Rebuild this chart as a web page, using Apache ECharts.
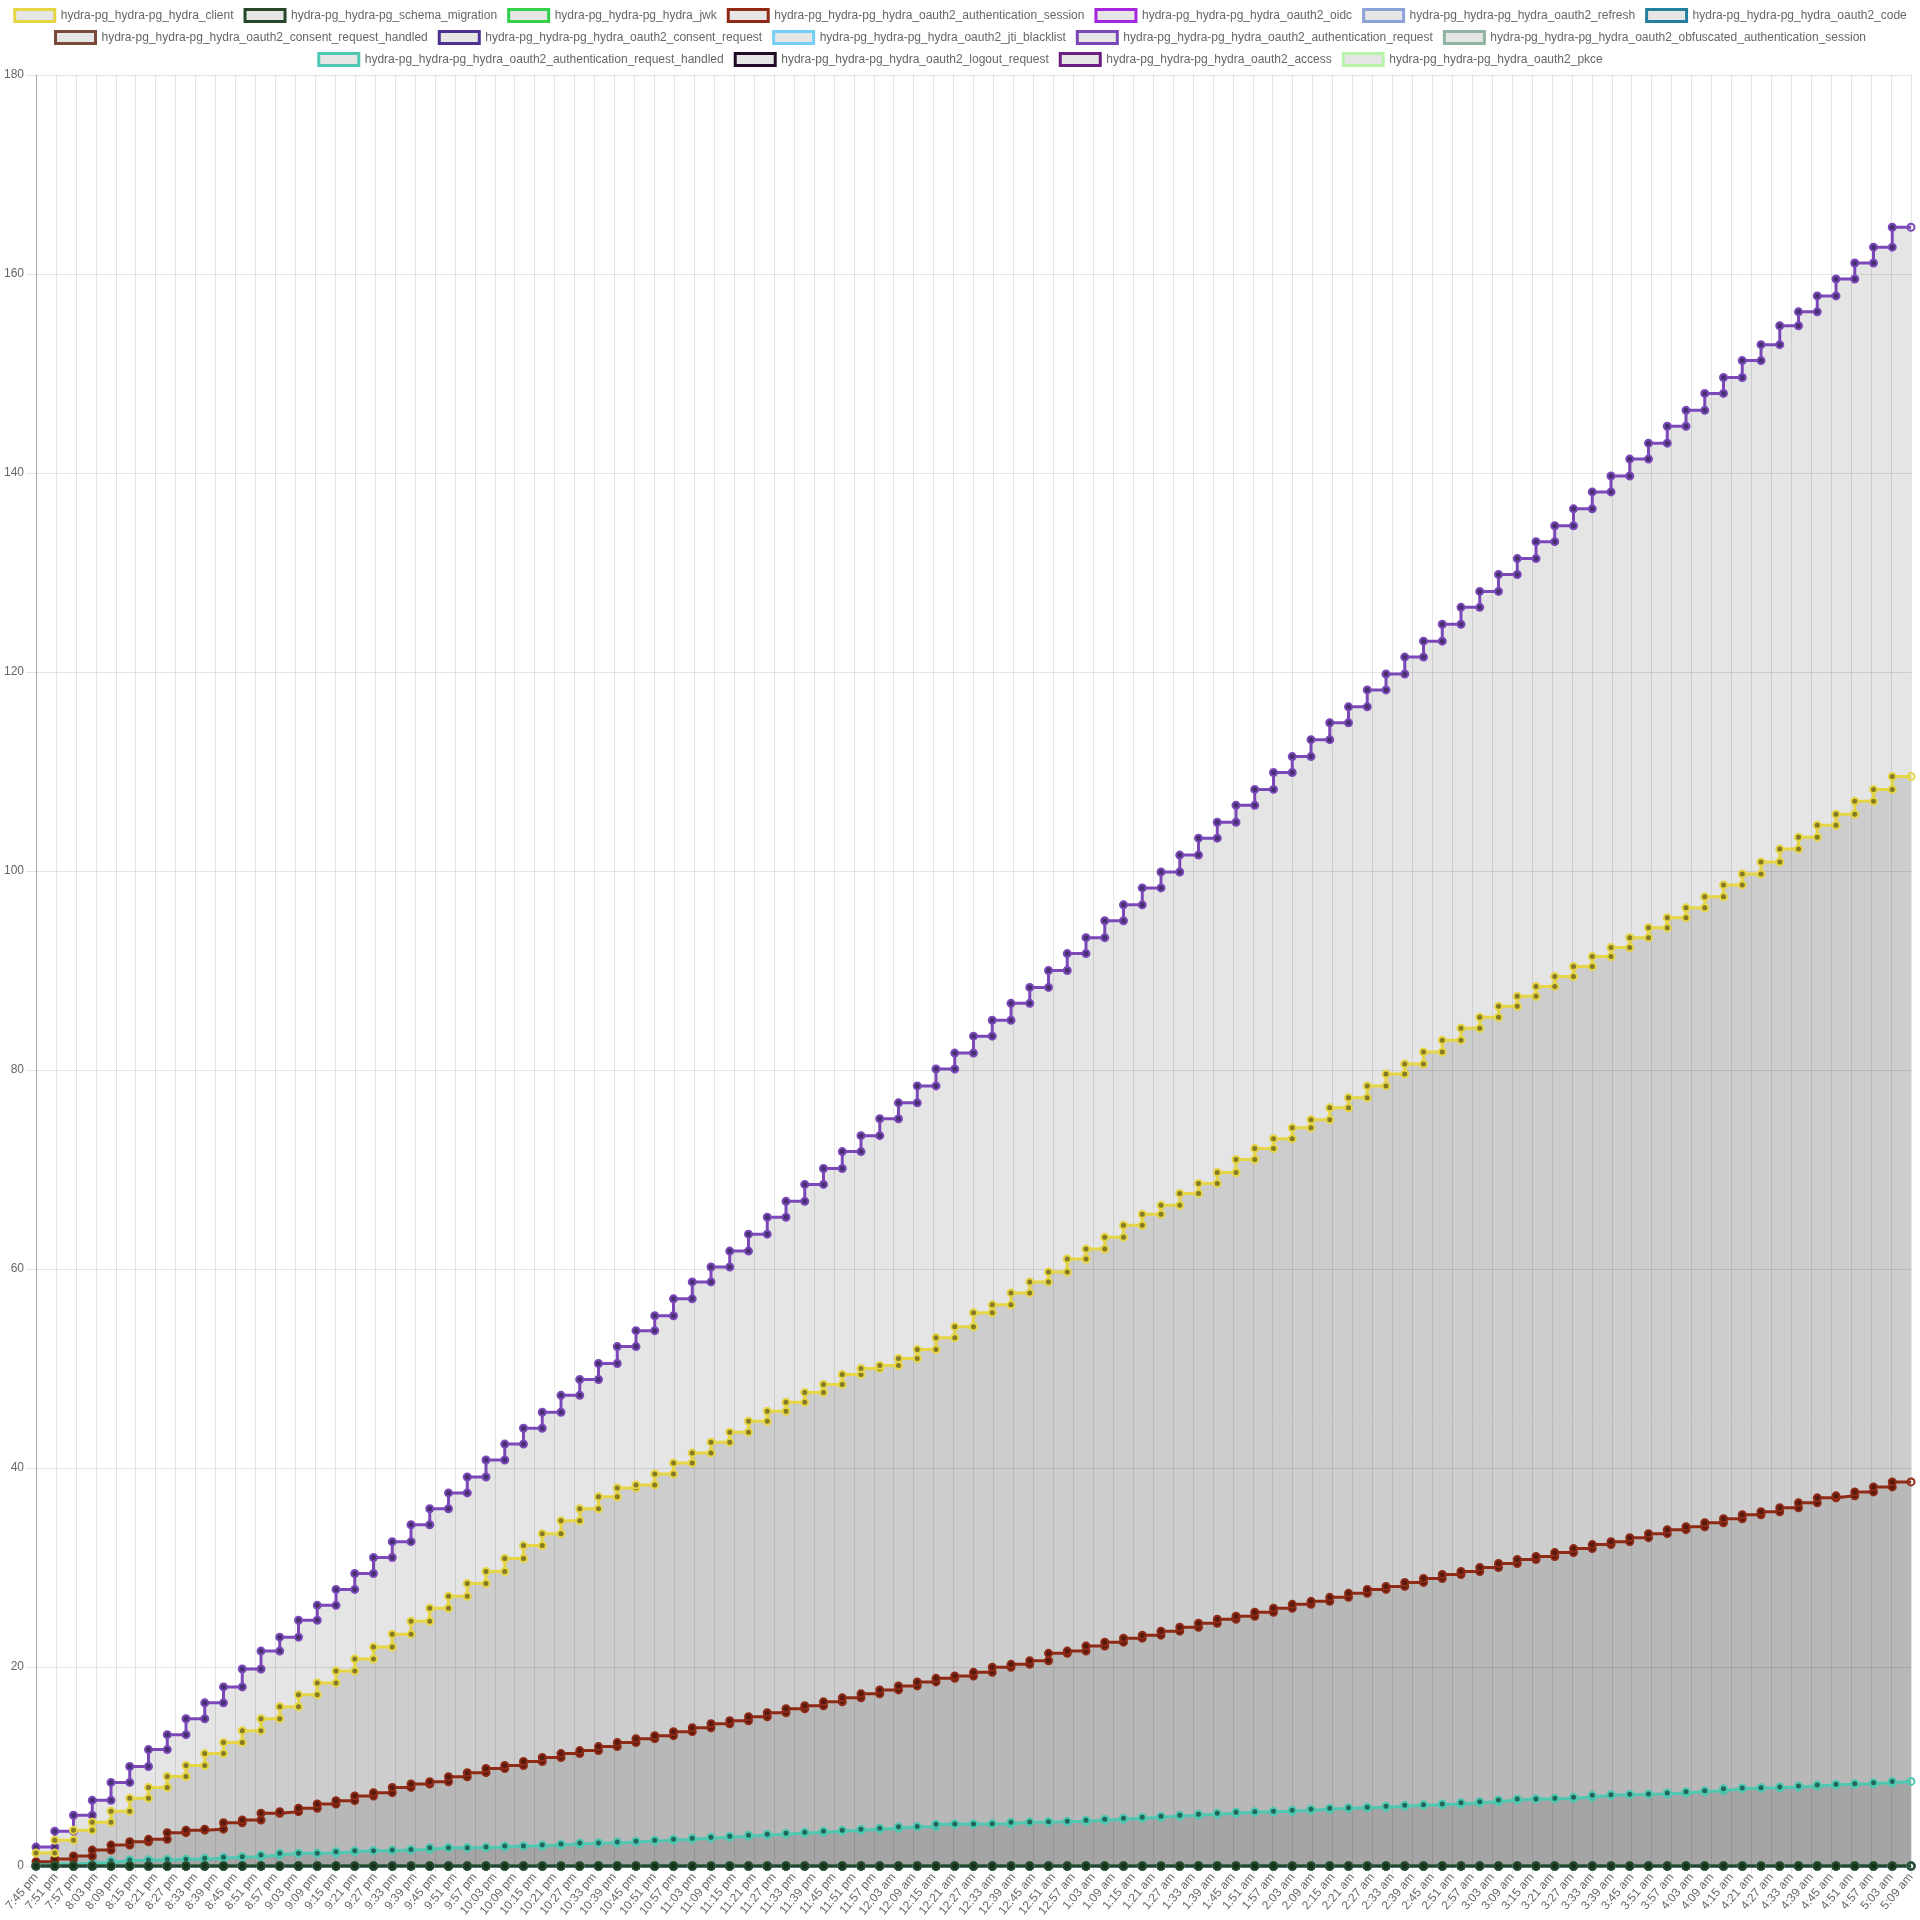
<!DOCTYPE html>
<html>
<head>
<meta charset="utf-8">
<script src="https://cdn.jsdelivr.net/npm/echarts@6/dist/echarts.min.js"></script>
<style>
  html, body { margin: 0; padding: 0; background: #fff; }
  #chart { width: 1920px; height: 1920px; }
</style>
</head>
<body>
<div id="chart"></div>
<script>
// x tick labels (every 6 minutes)
const timeLabels = [
  '7:45 pm', '7:51 pm', '7:57 pm', '8:03 pm', '8:09 pm', '8:15 pm', '8:21 pm', '8:27 pm', '8:33 pm', '8:39 pm',
  '8:45 pm', '8:51 pm', '8:57 pm', '9:03 pm', '9:09 pm', '9:15 pm', '9:21 pm', '9:27 pm', '9:33 pm', '9:39 pm',
  '9:45 pm', '9:51 pm', '9:57 pm', '10:03 pm', '10:09 pm', '10:15 pm', '10:21 pm', '10:27 pm', '10:33 pm', '10:39 pm',
  '10:45 pm', '10:51 pm', '10:57 pm', '11:03 pm', '11:09 pm', '11:15 pm', '11:21 pm', '11:27 pm', '11:33 pm', '11:39 pm',
  '11:45 pm', '11:51 pm', '11:57 pm', '12:03 am', '12:09 am', '12:15 am', '12:21 am', '12:27 am', '12:33 am', '12:39 am',
  '12:45 am', '12:51 am', '12:57 am', '1:03 am', '1:09 am', '1:15 am', '1:21 am', '1:27 am', '1:33 am', '1:39 am',
  '1:45 am', '1:51 am', '1:57 am', '2:03 am', '2:09 am', '2:15 am', '2:21 am', '2:27 am', '2:33 am', '2:39 am',
  '2:45 am', '2:51 am', '2:57 am', '3:03 am', '3:09 am', '3:15 am', '3:21 am', '3:27 am', '3:33 am', '3:39 am',
  '3:45 am', '3:51 am', '3:57 am', '4:03 am', '4:09 am', '4:15 am', '4:21 am', '4:27 am', '4:33 am', '4:39 am',
  '4:45 am', '4:51 am', '4:57 am', '5:03 am', '5:09 am'
];

const seriesNames = [
  'hydra-pg_hydra-pg_hydra_client',
  'hydra-pg_hydra-pg_schema_migration',
  'hydra-pg_hydra-pg_hydra_jwk',
  'hydra-pg_hydra-pg_hydra_oauth2_authentication_session',
  'hydra-pg_hydra-pg_hydra_oauth2_oidc',
  'hydra-pg_hydra-pg_hydra_oauth2_refresh',
  'hydra-pg_hydra-pg_hydra_oauth2_code',
  'hydra-pg_hydra-pg_hydra_oauth2_consent_request_handled',
  'hydra-pg_hydra-pg_hydra_oauth2_consent_request',
  'hydra-pg_hydra-pg_hydra_oauth2_jti_blacklist',
  'hydra-pg_hydra-pg_hydra_oauth2_authentication_request',
  'hydra-pg_hydra-pg_hydra_oauth2_obfuscated_authentication_session',
  'hydra-pg_hydra-pg_hydra_oauth2_authentication_request_handled',
  'hydra-pg_hydra-pg_hydra_oauth2_logout_request',
  'hydra-pg_hydra-pg_hydra_oauth2_access',
  'hydra-pg_hydra-pg_hydra_oauth2_pkce'
];
const lineColors = [
  '#e6d545', '#26472a', '#33d14c', '#8f2a16', '#a526dc', '#8ea2da', '#23809e', '#7a4a3c',
  '#4d3192', '#74cff6', '#7b48ba', '#8fb4a2', '#4fc8b2', '#220b26', '#6c1d84', '#b6f5a9'
];
const markerColors = [
  '#857a27', '#12301a', '#1a5a24', '#561a0e', '#5a1478', '#4a5a80', '#124a5c', '#452a22',
  '#2c1c55', '#3a6f86', '#46306e', '#4d6458', '#22655a', '#150616', '#3c1049', '#5e8a58'
];

// one level per sample; the line jumps to the next level at each sample
const clientCounts = [
  1.3, 2.6, 3.6, 4.4, 5.5, 6.8, 7.9,
  9.0, 10.1, 11.3, 12.4, 13.6, 14.8, 16.0, 17.2, 18.4, 19.6, 20.8,
  22.0, 23.3, 24.6, 25.9, 27.1, 28.4, 29.6, 30.9, 32.2, 33.4, 34.7, 35.9, 37.1, 38.0, 38.3, 39.4,
  40.5, 41.5, 42.6, 43.6, 44.7, 45.7, 46.6, 47.6, 48.4, 49.4, 50.0, 50.3,
  51.0, 51.9, 53.1, 54.2, 55.6, 56.4, 57.6, 58.7, 59.7, 61.0, 62.0,
  63.2, 64.4, 65.5, 66.4, 67.6, 68.6, 69.7, 71.0, 72.1, 73.1, 74.2, 75.0, 76.2, 77.2, 78.4, 79.6, 80.6,
  81.8, 83.0, 84.2, 85.3, 86.4, 87.4, 88.4, 89.4, 90.4, 91.4, 92.3, 93.3, 94.3, 95.3, 96.3,
  97.4, 98.6, 99.7, 100.9, 102.2, 103.4, 104.6, 105.7, 107.0, 108.2, 109.5
];
const authSessionCounts = [
  0.43, 0.7, 1.0, 1.6, 2.1, 2.44, 2.68, 3.35, 3.6, 3.7, 4.35, 4.62, 5.3, 5.46, 5.8, 6.23, 6.57, 7.04, 7.37, 7.9, 8.24, 8.47, 8.97, 9.38,
  9.8, 10.1, 10.5, 10.9, 11.3, 11.6, 12.0, 12.4, 12.8, 13.1, 13.5, 13.9, 14.3, 14.6, 15.0, 15.4, 15.8, 16.1, 16.5, 16.9, 17.3, 17.7, 18.1, 18.5,
  18.86, 19.1, 19.46, 19.97, 20.27, 20.63, 21.37, 21.6, 22.1,
  22.5, 22.9, 23.2, 23.6, 24.0, 24.4, 24.8, 25.1, 25.5, 25.9, 26.3, 26.6, 27.0, 27.4, 27.8, 28.1, 28.5, 28.9, 29.3,
  29.6, 30.0, 30.4, 30.8, 31.1, 31.5, 31.9, 32.3, 32.6, 33.0, 33.4, 33.8, 34.1, 34.5, 34.9, 35.3, 35.6, 36.0,
  36.5, 37.0, 37.2, 37.6, 38.1, 38.6
];
const authRequestCounts = [
  1.9, 3.5, 5.1, 6.6, 8.4, 10.0, 11.7, 13.2, 14.8, 16.4, 18.0, 19.8, 21.6, 23.0, 24.7, 26.2, 27.8, 29.4,
  31.0, 32.6, 34.3, 35.9, 37.5, 39.1, 40.8, 42.4, 44.0, 45.6, 47.3, 48.9,
  50.5, 52.2, 53.8, 55.3, 57.0, 58.7, 60.2, 61.8, 63.5,
  65.2, 66.8, 68.5, 70.1, 71.8, 73.4, 75.1, 76.7, 78.4, 80.1,
  81.7, 83.4, 85.0, 86.7, 88.3, 90.0, 91.7, 93.3, 95.0, 96.6,
  98.3, 99.9, 101.6, 103.3, 104.9, 106.6, 108.2, 109.9, 111.5, 113.2,
  114.9, 116.5, 118.2, 119.8, 121.5, 123.1, 124.8, 126.5, 128.1, 129.8,
  131.4, 133.1, 134.7, 136.4, 138.1, 139.7, 141.4, 143.0, 144.7, 146.3,
  148.0,
  149.6, 151.3, 152.9, 154.8, 156.2, 157.8, 159.5, 161.1, 162.7, 164.7
];
const authRequestHandledCounts = [
  0.2, 0.2, 0.27, 0.33, 0.53, 0.6, 0.6, 0.67, 0.67, 0.77, 0.87, 0.94, 1.1, 1.27, 1.27, 1.27, 1.44, 1.54, 1.54, 1.6, 1.67, 1.84, 1.84, 1.84,
  1.9, 2.0, 2.0, 2.1, 2.2, 2.3, 2.3, 2.4, 2.5, 2.6, 2.7, 2.8, 2.9, 3.0, 3.1, 3.2, 3.3, 3.4, 3.5, 3.6, 3.7, 3.8,
  3.95, 3.97, 4.2, 4.22, 4.23, 4.25, 4.4, 4.42, 4.45, 4.49, 4.6,
  4.7, 4.8, 4.9, 5.0, 5.1, 5.2, 5.3, 5.4, 5.45, 5.5, 5.6, 5.7, 5.8, 5.85, 5.9, 6.0, 6.1, 6.15,
  6.23, 6.36, 6.46, 6.63, 6.73, 6.73, 6.8, 6.9, 7.1, 7.17, 7.2, 7.24, 7.34, 7.47, 7.57, 7.77, 7.84, 7.87, 7.94, 8.04, 8.14, 8.21, 8.27, 8.37, 8.5
];
const zeroCounts = [
  0, 0, 0, 0, 0, 0, 0, 0, 0, 0, 0, 0, 0, 0, 0, 0, 0, 0, 0, 0,
  0, 0, 0, 0, 0, 0, 0, 0, 0, 0, 0, 0, 0, 0, 0, 0, 0, 0, 0, 0,
  0, 0, 0, 0, 0, 0, 0, 0, 0, 0, 0, 0, 0, 0, 0, 0, 0, 0, 0, 0,
  0, 0, 0, 0, 0, 0, 0, 0, 0, 0, 0, 0, 0, 0, 0, 0, 0, 0, 0, 0,
  0, 0, 0, 0, 0, 0, 0, 0, 0, 0, 0, 0, 0, 0, 0, 0, 0, 0, 0, 0
];

const countsByIndex = {0: clientCounts, 3: authSessionCounts, 10: authRequestCounts, 12: authRequestHandledCounts};

// two points per sample: level before the jump and level after it
function stepPoints(vals) {
  const pts = [[0, vals[0]]];
  for (let k = 1; k < vals.length; k++) {
    pts.push([k, vals[k - 1]]);
    pts.push([k, vals[k]]);
  }
  pts.push({value: [vals.length, vals[vals.length - 1]], itemStyle: {color: 'rgba(0,0,0,0)'}});
  return pts;
}

const font = '"Liberation Sans", Arial, Helvetica, sans-serif';
const series = [];
// first dataset is drawn on top, so push in reverse
for (let i = seriesNames.length - 1; i >= 0; i--) {
  const vals = countsByIndex[i] || zeroCounts;
  series.push({
    name: seriesNames[i],
    type: 'line',
    xAxisIndex: 1,
    data: stepPoints(vals),
    symbol: 'circle',
    symbolSize: 7,
    showAllSymbol: true,
    lineStyle: {color: lineColors[i], width: 3},
    itemStyle: {color: markerColors[i], borderColor: lineColors[i], borderWidth: 2},
    areaStyle: {color: '#000', opacity: 0.1},
    emphasis: {disabled: true},
    silent: true
  });
}

function legendRow(idx, top) {
  return {
    top: top,
    left: 'center',
    padding: 0,
    icon: 'rect',
    itemWidth: 40,
    itemHeight: 12,
    itemGap: 10,
    selectedMode: false,
    textStyle: {color: '#666', fontSize: 12, fontFamily: font, padding: [0, 0, 0, 1]},
    data: idx.map(i => ({
      name: seriesNames[i],
      itemStyle: {color: '#e6e6e6', borderColor: lineColors[i], borderWidth: 3}
    }))
  };
}

const chart = echarts.init(document.getElementById('chart'), null, {renderer: 'canvas'});
chart.setOption({
  animation: false,
  backgroundColor: '#fff',
  legend: [
    legendRow([0, 1, 2, 3, 4, 5, 6], 8),
    legendRow([7, 8, 9, 10, 11], 30),
    legendRow([12, 13, 14, 15], 52)
  ],
  grid: {left: 36, right: 9, top: 75, bottom: 54},
  xAxis: [
    {
      type: 'category',
      data: timeLabels,
      boundaryGap: false,
      axisLine: {lineStyle: {color: 'rgba(0,0,0,0.25)'}},
      axisTick: {show: true, interval: 0, length: 8, lineStyle: {color: 'rgba(0,0,0,0.1)'}},
      axisLabel: {interval: 0, rotate: 50, margin: 9, color: '#666', fontSize: 12, fontFamily: font},
      splitLine: {show: true, interval: 0, lineStyle: {color: 'rgba(0,0,0,0.1)', width: 1}}
    },
    {
      type: 'value',
      min: 0,
      max: 100,
      show: false
    }
  ],
  yAxis: {
    type: 'value',
    min: 0,
    max: 180,
    interval: 20,
    axisLine: {show: true, lineStyle: {color: 'rgba(0,0,0,0.25)'}},
    axisTick: {show: true, length: 10, lineStyle: {color: 'rgba(0,0,0,0.1)'}},
    axisLabel: {color: '#666', fontSize: 12, fontFamily: font, margin: 12},
    splitLine: {show: true, lineStyle: {color: 'rgba(0,0,0,0.1)', width: 1}}
  },
  series: series
});
</script>
</body>
</html>
